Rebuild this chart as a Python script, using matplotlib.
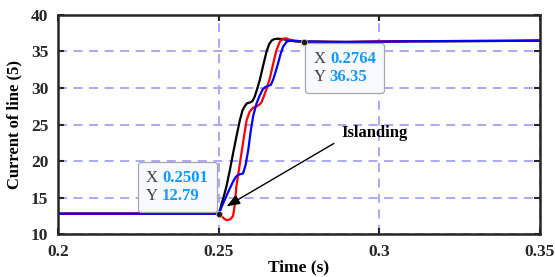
import matplotlib.pyplot as plt
from matplotlib.offsetbox import AnnotationBbox, TextArea, HPacker, VPacker

plt.rcParams['font.family'] = ['Liberation Serif', 'DejaVu Serif']

# black curve
t_k = [0.2, 0.2500, 0.2503, 0.2508, 0.2515, 0.2524, 0.2535, 0.2545, 0.2556, 0.2566,
       0.2574, 0.2581, 0.2588, 0.2597, 0.2605, 0.2612, 0.2620, 0.2628, 0.2638, 0.2649,
       0.2657, 0.2665, 0.2673, 0.2685, 0.2697, 0.2710, 0.2725, 0.2747, 0.2764,
       0.28, 0.29, 0.30, 0.31, 0.32, 0.33, 0.34, 0.35]
i_k = [12.79, 12.79, 13.0, 14.0, 15.0, 16.5, 18.8, 21.1, 23.5, 25.6,
       26.9, 27.5, 27.9, 28.0, 28.2, 28.8, 29.9, 31.1, 33.0, 35.0,
       36.0, 36.5, 36.7, 36.75, 36.7, 36.6, 36.45, 36.35, 36.35,
       36.35, 36.3, 36.35, 36.4, 36.4, 36.42, 36.45, 36.47]

# red curve
t_r = [0.2, 0.2500, 0.2510, 0.2520, 0.2529, 0.2538, 0.2545, 0.2550, 0.2555, 0.2563,
       0.2571, 0.2579, 0.2587, 0.2597, 0.2607, 0.2618, 0.2626, 0.2633, 0.2641, 0.2650,
       0.2659, 0.2670, 0.2680, 0.2691, 0.2700, 0.2710, 0.2722, 0.2740, 0.2764,
       0.28, 0.29, 0.30, 0.31, 0.32, 0.33, 0.34, 0.35]
i_r = [12.79, 12.79, 12.4, 12.0, 11.9, 12.1, 12.5, 14.0, 16.5, 18.8,
       21.1, 23.4, 25.6, 26.8, 27.3, 27.5, 27.7, 28.0, 28.9, 30.0,
       31.3, 33.4, 35.2, 36.4, 36.75, 36.8, 36.6, 36.4, 36.35,
       36.33, 36.3, 36.36, 36.4, 36.42, 36.43, 36.45, 36.48]

# blue curve
t_b = [0.2, 0.2500, 0.2503, 0.2511, 0.2519, 0.2532, 0.2545, 0.2553, 0.2560, 0.2568,
       0.2576, 0.2584, 0.2592, 0.2600, 0.2608, 0.2618, 0.2628, 0.2637, 0.2644, 0.2654,
       0.2662, 0.2670, 0.2677, 0.2685, 0.2693, 0.2701, 0.2712, 0.2725, 0.2745, 0.2764,
       0.28, 0.285, 0.29, 0.295, 0.30, 0.31, 0.32, 0.33, 0.34, 0.35]
i_b = [12.79, 12.79, 13.05, 13.9, 14.7, 16.0, 17.2, 17.8, 18.1, 18.2,
       18.3, 19.5, 21.5, 24.2, 26.3, 27.9, 29.0, 29.8, 30.1, 30.3,
       30.4, 31.2, 32.2, 33.4, 34.7, 35.7, 36.35, 36.5, 36.45, 36.35,
       36.35, 36.3, 36.3, 36.32, 36.35, 36.4, 36.42, 36.45, 36.45, 36.5]

tip1 = (0.2501, 12.79)
tip2 = (0.2764, 36.35)
arrow_tip = (0.2517, 13.6)
arrow_tail = (0.2866, 22.6)

fig = plt.figure(figsize=(5.55, 2.77), dpi=100)
ax = fig.add_axes([0.1045, 0.155, 0.8685, 0.791])

ax.plot(t_k, i_k, color='black', lw=1.6)
ax.plot(t_r, i_r, color='#ff0000', lw=1.6)
ax.plot(t_b, i_b, color='#0000ff', lw=1.6)

ax.set_xlim(0.2, 0.35)
ax.set_ylim(10, 40)
ax.set_xticks([0.2, 0.25, 0.3, 0.35])
ax.set_xticklabels(['0.2', '0.25', '0.3', '0.35'])
ax.set_yticks([10, 15, 20, 25, 30, 35, 40])
ax.grid(True, color='#a3a3f7', lw=1.3, linestyle=(0, (5, 3.6)))
ax.tick_params(direction='in', length=4, width=1.5, top=True, right=True,
               labelsize=12.5, colors='#262626', pad=7)
for lab in ax.get_xticklabels() + ax.get_yticklabels():
    lab.set_fontweight('bold')
for s in ax.spines.values():
    s.set_linewidth(1.8)
    s.set_color('#262626')

ax.set_xlabel('Time (s)', fontsize=12.5, fontweight='bold', labelpad=0)
ax.set_ylabel('Current of line (5)', fontsize=12, fontweight='bold', labelpad=6)

# data tips
def datatip(xy, box_align, offset):
    ax.plot(*xy, 'o', color='#1a1a1a', mec='#d8d8a0', mew=0.5, ms=4.5, zorder=6)
    rows = []
    for name, val in (('X ', f'{xy[0]:.4f}'), ('Y ', f'{xy[1]:.2f}')):
        a = TextArea(name, textprops=dict(color='#404040', fontsize=12))
        b = TextArea(val, textprops=dict(color='#1199ff', fontsize=12, fontweight='bold'))
        rows.append(HPacker(children=[a, b], pad=0, sep=0, align='baseline'))
    box = VPacker(children=rows, pad=0, sep=1, align='left')
    ab = AnnotationBbox(box, xy, xybox=offset, xycoords='data', boxcoords='offset points',
                        box_alignment=box_align,
                        bboxprops=dict(boxstyle='round,pad=0.6,rounding_size=0.2',
                                       fc='#f8f8ff', ec='#a8a8a8', lw=0.9))
    ab.set_zorder(5)
    ax.add_artist(ab)

datatip(tip1, (1, 0), (-7.7, 7.2))
datatip(tip2, (0, 1), (7.4, -7.0))

ax.annotate('', xy=arrow_tip, xytext=arrow_tail,
            arrowprops=dict(arrowstyle='-|>,head_length=0.8,head_width=0.3',
                            color='black', lw=1.0), zorder=7)
ax.text(0.2881, 23.8, 'Islanding', fontsize=12, fontweight='bold',
        va='center', ha='left', color='black')

fig.savefig('out.png', dpi=100)
